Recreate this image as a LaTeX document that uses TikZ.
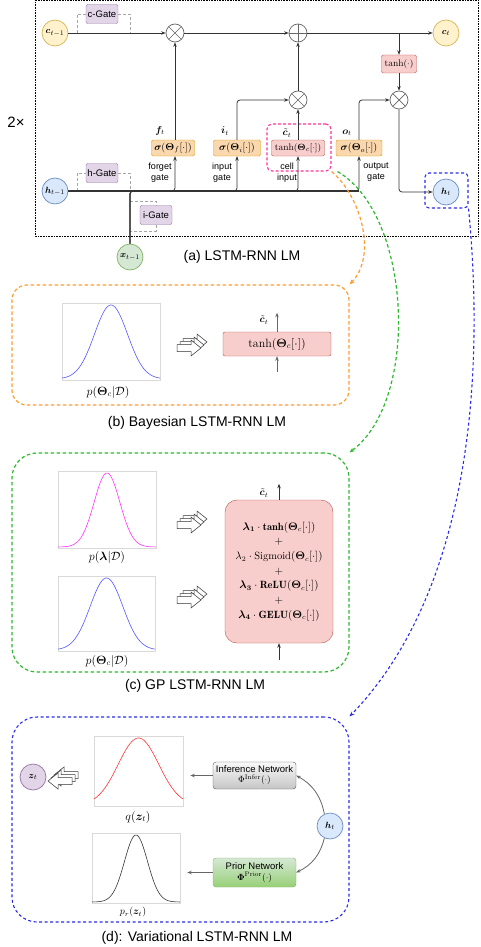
\documentclass[tikz,border=0pt]{standalone}
\usepackage{fontspec}
\usepackage{amsmath,bm}
\newfontfamily\hel{Liberation Sans}
\usetikzlibrary{arrows.meta,calc}
\definecolor{cfill}{HTML}{FFF2CC}\definecolor{cdraw}{HTML}{D6B656}
\definecolor{hfill}{HTML}{DAE8FC}\definecolor{hdraw}{HTML}{6C8EBF}
\definecolor{xfill}{HTML}{D5E8D4}\definecolor{xdraw}{HTML}{82B366}
\definecolor{zfill}{HTML}{E1D5E7}\definecolor{zdraw}{HTML}{9673A6}
\definecolor{sfill}{HTML}{FAD7AC}\definecolor{sdraw}{HTML}{D79B00}
\definecolor{tfill}{HTML}{F8CECC}\definecolor{tdraw}{HTML}{B85450}
\definecolor{opc}{HTML}{666666}\definecolor{lc}{HTML}{333333}
\definecolor{orangeD}{HTML}{FF9A2E}\definecolor{greenD}{HTML}{2DB82D}
\definecolor{blueD}{HTML}{2B2BE8}\definecolor{magD}{HTML}{FF3399}
\definecolor{gblue}{HTML}{5555FF}\definecolor{gmag}{HTML}{FF33FF}
\definecolor{gred}{HTML}{FF3333}
\definecolor{ptop}{HTML}{D5E8D4}\definecolor{pbot}{HTML}{97D077}
\newcommand{\gaussfig}[7]{%
  \node[frm, minimum width=#4, minimum height=#5] (#1) at (#2,#3) {};
  \draw[#6, line width=0.6pt] plot[domain=-1:1, samples=80, smooth]
    ({#2+\x*#4/2},{#3+#5/2-1-(#5-3)*exp(-(#7*\x)*(#7*\x))});}
\newcommand{\stackarr}[3]{%
  \foreach \k in {2,1,0}{%
    \begin{scope}[shift={(#1+3*\k,#2-3*\k)}, xscale=#3]
      \draw[fill=white, line width=0.5pt, draw=black!80] (-12,-3.5) -- (2,-3.5) -- (2,-8) -- (12,0) -- (2,8) -- (2,3.5) -- (-12,3.5) -- cycle;
    \end{scope}}}
\begin{document}
\begin{tikzpicture}[x=1pt,y=-1pt,
  circ/.style={circle, minimum size=26pt, inner sep=0pt, line width=0.7pt, font=\fontsize{9.5}{10}\selectfont},
  ccell/.style={circ, fill=cfill, draw=cdraw},
  hcell/.style={circ, fill=hfill, draw=hdraw},
  xcell/.style={circ, fill=xfill, draw=xdraw},
  zcell/.style={circ, fill=zfill, draw=zdraw},
  opnode/.style={circle, draw=opc, fill=white, minimum size=18pt, inner sep=0pt, line width=0.7pt},
  mulnode/.style={opnode, path picture={\draw[opc, line width=0.7pt] (path picture bounding box.north west) -- (path picture bounding box.south east) (path picture bounding box.north east) -- (path picture bounding box.south west);}},
  addnode/.style={opnode, path picture={\draw[opc, line width=0.7pt] (path picture bounding box.north) -- (path picture bounding box.south) (path picture bounding box.east) -- (path picture bounding box.west);}},
  gatebox/.style={rectangle, rounded corners=2pt, fill=zfill, draw=zdraw, font=\hel\fontsize{9.5}{10}\selectfont, minimum width=32pt, minimum height=19pt, inner sep=0pt},
  sigbox/.style={rectangle, rounded corners=2pt, fill=sfill, draw=sdraw, minimum height=16pt, inner sep=0pt, font=\fontsize{10}{11}\selectfont},
  tanhbox/.style={rectangle, rounded corners=2pt, fill=tfill, draw=tdraw, inner sep=0pt},
  conn/.style={draw=lc, line width=0.8pt, -{Stealth[length=4.5pt,width=3.5pt]}},
  gconn/.style={draw=gray!80!black, line width=0.8pt, -{Stealth[length=4.5pt,width=3.5pt]}},
  gdash/.style={draw=gray!70, line width=0.7pt, dash pattern=on 3pt off 2pt},
  lbl/.style={font=\fontsize{10}{11}\selectfont, inner sep=0pt},
  plbl/.style={font=\fontsize{12}{13}\selectfont, inner sep=0pt},
  gatelbl/.style={font=\hel\fontsize{9}{11}\selectfont, align=center, inner sep=0pt},
  captxt/.style={font=\hel\fontsize{14}{16}\selectfont},
  frm/.style={draw=black!15, line width=0.6pt, inner sep=0pt},
  odash/.style={draw=orangeD, line width=1.2pt, dash pattern=on 3.5pt off 2.5pt},
  grdash/.style={draw=greenD, line width=1.2pt, dash pattern=on 3.5pt off 2.5pt},
  bdash/.style={draw=blueD, line width=1.1pt, dash pattern=on 3pt off 2.5pt},
  tipd/.style={-{Stealth[length=5pt,width=4pt]}},
]
\useasboundingbox (0,0) rectangle (480,947);

% ===== (a) LSTM =====
\draw[densely dotted, line width=0.6pt] (35,0.5) rectangle (478,236);
\node[font=\hel\fontsize{15}{16}\selectfont] (two) at (16,122) {2×};

\node[ccell] (ct1) at (55,33) {$\bm c_{t-1}$};
\node[gatebox] (cgate) at (102,14) {c-Gate};
\node[mulnode] (m1) at (175,33) {};
\node[addnode] (a1) at (298,33) {};
\node[ccell] (ct) at (446,33) {$\bm c_t$};
\node[tanhbox, minimum width=35pt, minimum height=18pt, font=\fontsize{9.5}{10}\selectfont] (th) at (399,64) {$\tanh(\cdot)$};
\node[mulnode] (m2) at (298,100) {};
\node[mulnode] (m3) at (399,100) {};

\node[sigbox, minimum width=43pt] (fgb) at (173,148) {$\bm\sigma(\bm\Theta_f[\cdot])$};
\node[sigbox, minimum width=47pt] (igb) at (237,148) {$\bm\sigma(\bm\Theta_i[\cdot])$};
\node[tanhbox, minimum width=53pt, minimum height=16pt, font=\fontsize{9.5}{10}\selectfont] (cgb) at (298,148) {$\tanh(\bm\Theta_c[\cdot])$};
\node[sigbox, minimum width=46pt] (ogb) at (359,148) {$\bm\sigma(\bm\Theta_o[\cdot])$};
\node[draw=magD, line width=1.1pt, dash pattern=on 3pt off 2pt, rounded corners=5pt, minimum width=64pt, minimum height=47pt] (cbox) at (299,147.5) {};

\node[lbl] at (160,131) {$\bm f_t$};
\node[lbl] at (225,131) {$\bm i_t$};
\node[lbl] at (287,133) {$\tilde{\bm c}_t$};
\node[lbl] at (347,133) {$\bm o_t$};
\node[gatelbl] at (160,172.5) {forget\\gate};
\node[gatelbl] at (222,172.5) {input\\gate};
\node[gatelbl] at (287,172.5) {cell\\input};
\node[gatelbl] at (376,172.5) {output\\gate};

\node[hcell] (ht1) at (55,191) {$\bm h_{t-1}$};
\node[gatebox] (hgate) at (102,173) {h-Gate};
\node[xcell] (xt) at (130,257) {$\bm x_{t-1}$};
\node[gatebox] (igate) at (156,215) {i-Gate};
\node[hcell] (ht) at (446,192) {$\bm h_t$};
\node[bdash, rounded corners=4pt, minimum width=43pt, minimum height=35pt] (hbox) at (446.5,190.5) {};

\coordinate (bus) at (130,191);

% gate dashed brackets
\draw[gdash] (77,33) |- (cgate.west);
\draw[gdash] (cgate.east) -| (130,33);
\draw[gdash] (77,191) |- (hgate.west);
\draw[gdash] (hgate.east) -| (130,191);
\draw[gdash] (130,201) -| (igate.north);
\draw[gdash] (igate.south) |- (130,231);

% top cell path
\draw[conn] (ct1) -- (m1);
\draw[conn] (m1) -- (a1);
\draw[conn] (a1) -- (ct);
\draw[conn] (a1 -| th) -- (th.north);
\draw[conn] (th.south) -- (m3.north);
\draw[conn] (m2) -- (a1);

% bus
\draw[draw=lc, line width=1.4pt] (ht1.east) -- (bus);
\draw[conn, rounded corners=3pt] (xt.north) |- (m1 |- bus) -- (m1 |- fgb.south);
\draw[conn, rounded corners=3pt] (xt.north) |- (igb.south |- bus) -- (igb.south);
\draw[conn, rounded corners=3pt] (xt.north) |- (m2 |- bus) -- (m2 |- cgb.south);
\draw[conn, rounded corners=3pt] (xt.north) |- (ogb.south |- bus) -- (ogb.south);
\draw[draw=lc, line width=1.2pt] (bus) -- (ogb.south |- bus);

\draw[conn] (m1 |- fgb.north) -- (m1);
\draw[conn, rounded corners=3pt] (igb.north) |- (m2.west);
\draw[conn] (m2 |- cgb.north) -- (m2);
\draw[conn, rounded corners=3pt] (ogb.north) |- (m3.west);
\draw[conn, rounded corners=3pt] (m3.south) |- (ht.west);

\node[captxt] at (242,257) {(a) LSTM-RNN LM};

% ===== (b) Bayesian =====
\node[odash, rounded corners=15pt, minimum width=337pt, minimum height=120pt] (bbox) at (180.5,345) {};
\gaussfig{bf}{111}{341.5}{98}{77}{gblue}{2.1}
\node[plbl] at (108,392) {$p(\bm\Theta_c|\mathcal{D})$};
\stackarr{189}{348}{1}
\node[tanhbox, minimum width=108pt, minimum height=24pt, font=\fontsize{12}{13}\selectfont] (bt) at (277,344) {$\tanh(\bm\Theta_c[\cdot])$};
\draw[gconn] (bt.north) -- ++(0,-19);
\draw[gconn] ([yshift=-16pt]bt.south) -- (bt.south);
\node[lbl] at (264,320) {$\tilde{\bm c}_t$};
\node[captxt] at (197,423) {(b) Bayesian LSTM-RNN LM};

% ===== (c) GP =====
\node[grdash, rounded corners=25pt, minimum width=337pt, minimum height=219pt] (gpbox) at (180.5,562.5) {};
\gaussfig{lf}{107}{509.5}{98}{77}{gmag}{2.7}
\node[plbl] at (107,557) {$p(\bm\lambda|\mathcal{D})$};
\gaussfig{tf}{106.5}{613.5}{97}{75}{gblue}{2.1}
\node[plbl] at (107,661) {$p(\bm\Theta_c|\mathcal{D})$};
\stackarr{189}{525}{1}
\stackarr{189}{600}{1}
\node[tanhbox, rounded corners=12pt, minimum width=108pt, minimum height=143pt, align=center, font=\fontsize{10.5}{14.7}\selectfont] (gp) at (279,571.5)
 {$\bm\lambda_{\bm 1}\cdot\mathbf{tanh}(\bm\Theta_c[\cdot])$\\ $+$\\ $\lambda_2\cdot\mathrm{Sigmoid}(\bm\Theta_c[\cdot])$\\ $+$\\ $\bm\lambda_{\bm 3}\cdot\mathbf{ReLU}(\bm\Theta_c[\cdot])$\\ $+$\\ $\bm\lambda_{\bm 4}\cdot\mathbf{GELU}(\bm\Theta_c[\cdot])$};
\draw[conn, line width=0.7pt] (gp.north) -- ++(0,-16);
\draw[conn, line width=0.7pt] ([yshift=-17pt]gp.south) -- (gp.south);
\node[lbl] at (264,493) {$\tilde{\bm c}_t$};
\node[captxt] at (195,686) {(c) GP LSTM-RNN LM};

% ===== (d) Variational =====
\node[bdash, rounded corners=25pt, minimum width=337pt, minimum height=205pt] (dbox) at (180.5,819.5) {};
\node[zcell] (zt) at (33,777) {$\bm z_t$};
\stackarr{60}{781}{-1}
\gaussfig{qf}{138.5}{771}{89}{70}{gred}{1.55}
\node[plbl] at (138,817) {$q(\bm z_t)$};
\gaussfig{pf}{136}{868}{88}{70}{black!80}{2.7}
\node[lbl] at (133,912) {$p_r(\bm z_t)$};
\node[rectangle, rounded corners=3pt, top color=gray!5, bottom color=gray!45, draw=gray!70!black, minimum width=83pt, minimum height=27pt, inner sep=0pt, align=center, font=\fontsize{9.5}{10}\selectfont] (inf) at (254.5,775.5)
 {{\hel Inference Network}\\ $\Phi^{\mathrm{Infer}}(\cdot)$};
\node[rectangle, rounded corners=3pt, top color=ptop, bottom color=pbot, draw=xdraw, minimum width=83pt, minimum height=29pt, inner sep=0pt, align=center, font=\fontsize{9.5}{10.5}\selectfont] (prior) at (254.5,872.5)
 {{\hel Prior Network}\\ $\bm\Phi^{\mathrm{Prior}}(\cdot)$};
\node[hcell] (ht2) at (330,826) {$\bm h_t$};
\draw[gconn] (inf.west) -- ([xshift=7pt]inf.west -| qf.east);
\draw[gconn] (prior.west) -- ([xshift=7pt]prior.west -| pf.east);
\draw[gconn] (ht2.115) to[bend right=25] (inf.east);
\draw[gconn] (ht2.245) to[bend left=25] (prior.east);
\node[captxt] at (197,938) {(d): Variational LSTM-RNN LM};

% ===== curved links =====
\draw[odash, tipd] (cbox.south east) .. controls (360,195) and (378,255) .. (bbox.north east);
\draw[grdash, tipd] ([xshift=6pt]cbox.south east) .. controls (412,215) and (420,400) .. (gpbox.north east);
\draw[bdash, tipd] (hbox.south east) .. controls (487,400) and (462,600) .. (dbox.north east);
\end{tikzpicture}
\end{document}
